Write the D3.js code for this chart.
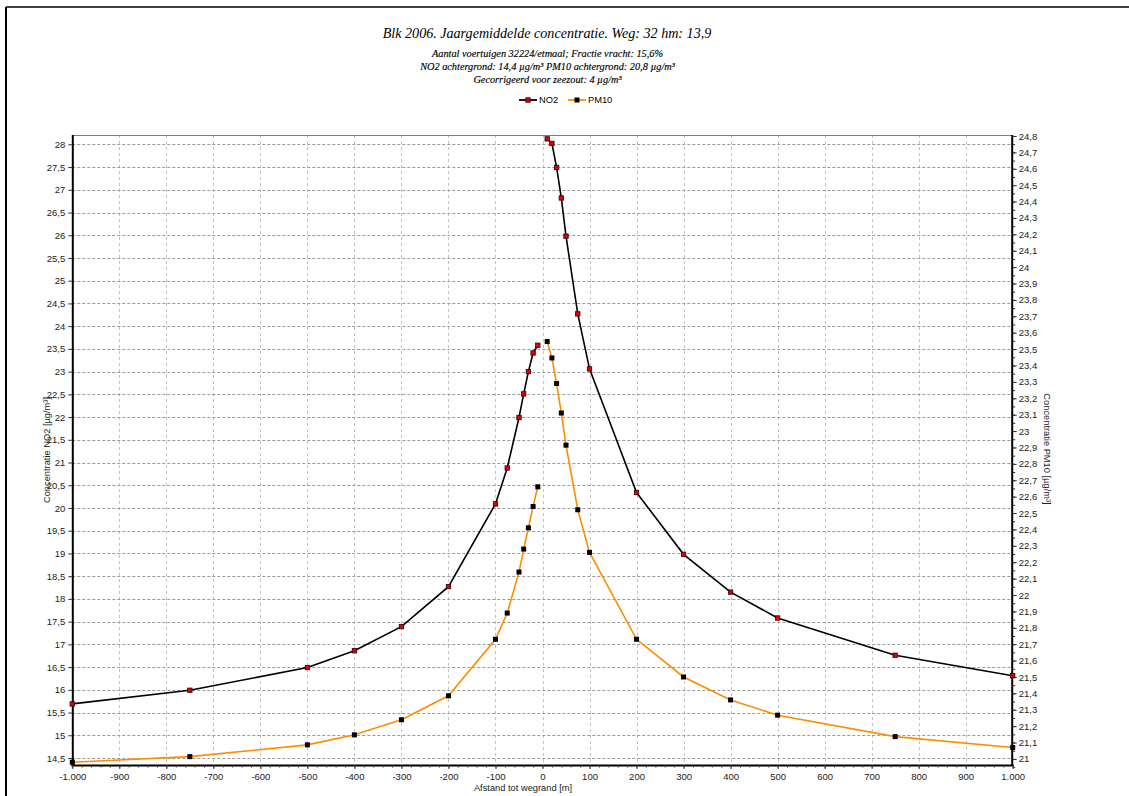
<!DOCTYPE html>
<html>
<head>
<meta charset="utf-8">
<script src="https://cdn.jsdelivr.net/npm/d3@7/dist/d3.min.js"></script>
<style>
  html, body { margin: 0; padding: 0; background: #fff; }
  svg { display: block; }
</style>
</head>
<body>
<svg id="chart" width="1129" height="796"></svg>
<script>
// ---- data ----
const distances = [-1000, -750, -500, -400, -300, -200, -100, -75, -50, -40, -30, -20, -10, 0,
                   10, 20, 30, 40, 50, 75, 100, 200, 300, 400, 500, 750, 1000];
const no2Values = [15.69, 15.99, 16.49, 16.86, 17.39, 18.27, 20.09, 20.88, 21.99, 22.51, 23.0, 23.41, 23.58, null,
                   28.12, 28.02, 27.49, 26.82, 25.98, 24.27, 23.06, 20.34, 18.98, 18.15, 17.58, 16.76, 16.31];
const pm10Values = [20.98, 21.014, 21.086, 21.147, 21.239, 21.385, 21.73, 21.89, 22.14, 22.28, 22.41, 22.54, 22.66, null,
                    23.546, 23.446, 23.29, 23.11, 22.914, 22.52, 22.26, 21.73, 21.50, 21.36, 21.267, 21.136, 21.07];
const seriesNames = ["NO2", "PM10"];
const titleText = "Blk 2006. Jaargemiddelde concentratie. Weg: 32 hm: 13,9";
const subtitleLines = [
  "Aantal voertuigen 32224/etmaal; Fractie vracht: 15,6%",
  "NO2 achtergrond: 14,4 \u00b5g/m\u00b3 PM10 achtergrond: 20,8 \u00b5g/m\u00b3",
  "Gecorrigeerd voor zeezout: 4 \u00b5g/m\u00b3"
];
const xTitle = "Afstand tot wegrand [m]";
const yLeftTitle = "Concentratie NO2 [\u00b5g/m\u00b3]";
const yRightTitle = "Concentratie PM10 [\u00b5g/m\u00b3]";
const xTicks = d3.range(-1000, 1001, 100);
const xMinorTicks = d3.range(-1000, 1001, 20);
const yLeftTicks = d3.range(14.5, 28.01, 0.5);
const yRightTicks = d3.range(21, 24.801, 0.1).map(v => Math.round(v * 10) / 10);
const yRightMinor = d3.range(20.95, 24.81, 0.05).map(v => Math.round(v * 100) / 100);

// ---- layout ----
const svg = d3.select("#chart");
const plot = { left: 72.3, right: 1012.7, top: 135, bottom: 765 };

const nl = d3.formatLocale({ decimal: ",", thousands: ".", grouping: [3], currency: ["", ""], minus: "-" });
const fmtX = nl.format(",~f");
const fmtY = nl.format(".1~f");

const x = d3.scaleLinear().domain([-1000, 1000]).range([plot.left, plot.right]);
const yL = d3.scaleLinear().domain([14.346, 28.205]).range([plot.bottom, plot.top]);
const yR = d3.scaleLinear().domain([20.963, 24.806]).range([plot.bottom, plot.top]);

// frame
svg.append("line").attr("x1", 6).attr("x2", 6).attr("y1", 7).attr("y2", 796)
  .attr("stroke", "#000").attr("stroke-width", 2);
svg.append("line").attr("x1", 6).attr("x2", 1129).attr("y1", 7).attr("y2", 7)
  .attr("stroke", "#000").attr("stroke-width", 1.5);

// grid
const grid = svg.append("g");
grid.selectAll(".vg").data(xTicks.filter(d => d > -1000 && d < 1000)).enter().append("line")
  .attr("x1", d => Math.round(x(d)) + 0.5).attr("x2", d => Math.round(x(d)) + 0.5)
  .attr("y1", plot.top).attr("y2", plot.bottom)
  .attr("stroke", "#c4c4c4").attr("stroke-dasharray", "3,3");
grid.selectAll(".hg").data(yLeftTicks).enter().append("line")
  .attr("x1", plot.left).attr("x2", plot.right)
  .attr("y1", d => Math.round(yL(d)) + 0.5).attr("y2", d => Math.round(yL(d)) + 0.5)
  .attr("stroke", "#9a9a9a").attr("stroke-dasharray", "3,2");

// top border
svg.append("line").attr("x1", plot.left).attr("x2", plot.right).attr("y1", plot.top + 0.5).attr("y2", plot.top + 0.5)
  .attr("stroke", "#808080").attr("stroke-width", 1);

// axes
const tickFont = "Liberation Sans, Arial, sans-serif";
const xAxis = svg.append("g").attr("transform", `translate(0,${plot.bottom})`)
  .call(d3.axisBottom(x).tickValues(xTicks).tickFormat(fmtX).tickSize(4).tickPadding(4));
const xMinor = svg.append("g").attr("transform", `translate(0,${plot.bottom})`)
  .call(d3.axisBottom(x).tickValues(xMinorTicks).tickFormat("").tickSize(2.5));
xMinor.select(".domain").remove();

const yLAxis = svg.append("g").attr("transform", `translate(${plot.left},0)`)
  .call(d3.axisLeft(yL).tickValues(yLeftTicks).tickFormat(fmtY).tickSize(4).tickPadding(3));

const yRAxis = svg.append("g").attr("transform", `translate(${plot.right},0)`)
  .call(d3.axisRight(yR).tickValues(yRightTicks).tickFormat(fmtY).tickSize(4).tickPadding(2));
const yRMinor = svg.append("g").attr("transform", `translate(${plot.right},0)`)
  .call(d3.axisRight(yR).tickValues(yRightMinor).tickFormat("").tickSize(2.5));
yRMinor.select(".domain").remove();

[xAxis, yLAxis, yRAxis].forEach(g => {
  g.select(".domain").attr("stroke", "#000").attr("stroke-width", 2);
  g.selectAll("text").attr("font-family", tickFont).attr("font-size", 9.5).attr("fill", "#222");
});
xAxis.select(".domain").attr("d", `M${plot.left - 1},0.5H${plot.right + 1}`);
yLAxis.select(".domain").attr("d", `M0.5,${plot.top}V${plot.bottom}`);
yRAxis.select(".domain").attr("d", `M-0.5,${plot.top}V${plot.bottom}`);
svg.selectAll(".tick line").attr("stroke", "#333");

// lines
const defs = (arr) => distances.map((d, i) => ({ d, v: arr[i] }));
const no2Data = defs(no2Values);
const pm10Data = defs(pm10Values);

const lineL = d3.line().defined(p => p.v !== null).x(p => x(p.d)).y(p => yL(p.v));
const lineR = d3.line().defined(p => p.v !== null).x(p => x(p.d)).y(p => yR(p.v));

svg.append("path").datum(pm10Data).attr("d", lineR)
  .attr("fill", "none").attr("stroke", "#ff8c00").attr("stroke-width", 1.6);
svg.append("path").datum(no2Data).attr("d", lineL)
  .attr("fill", "none").attr("stroke", "#000").attr("stroke-width", 1.6);

svg.append("g").selectAll("rect").data(pm10Data.filter(p => p.v !== null)).enter().append("rect")
  .attr("x", p => x(p.d) - 2.5).attr("y", p => yR(p.v) - 2.5)
  .attr("width", 5).attr("height", 5).attr("fill", "#000");
svg.append("g").selectAll("rect").data(no2Data.filter(p => p.v !== null)).enter().append("rect")
  .attr("x", p => x(p.d) - 2.2).attr("y", p => yL(p.v) - 2.2)
  .attr("width", 4.4).attr("height", 4.4).attr("fill", "#e00000").attr("stroke", "#300").attr("stroke-width", 0.8);

// titles
const serif = "Liberation Serif, Times New Roman, serif";
svg.append("text").attr("x", 547).attr("y", 38).attr("text-anchor", "middle")
  .attr("font-family", serif).attr("font-style", "italic").attr("font-size", 14.1).attr("fill", "#000")
  .text(titleText);
subtitleLines.forEach((t, i) => {
  svg.append("text").attr("x", 547.5).attr("y", [56.5, 69.5, 82.5][i]).attr("text-anchor", "middle")
    .attr("font-family", serif).attr("font-style", "italic").attr("font-size", 10.3).attr("fill", "#000")
    .attr("stroke", "#000").attr("stroke-width", 0.15)
    .text(t);
});

// legend
const legend = svg.append("g").attr("font-family", tickFont).attr("font-size", 9.3);
const legItems = [
  { name: seriesNames[0], x0: 519, color: "#000", mfill: "#e00000", mstroke: "#300", ms: 4.4 },
  { name: seriesNames[1], x0: 568, color: "#ff8c00", mfill: "#000", mstroke: "none", ms: 5 }
];
legItems.forEach(it => {
  legend.append("line").attr("x1", it.x0).attr("x2", it.x0 + 18).attr("y1", 100).attr("y2", 100)
    .attr("stroke", it.color).attr("stroke-width", 1.8);
  legend.append("rect").attr("x", it.x0 + 9 - it.ms / 2).attr("y", 100 - it.ms / 2)
    .attr("width", it.ms).attr("height", it.ms).attr("fill", it.mfill).attr("stroke", it.mstroke).attr("stroke-width", 0.8);
  legend.append("text").attr("x", it.x0 + 20).attr("y", 103.3).attr("fill", "#000").text(it.name);
});

// axis titles
svg.append("text").attr("transform", `translate(50,450) rotate(-90)`).attr("text-anchor", "middle")
  .attr("font-family", tickFont).attr("font-size", 9.3).attr("fill", "#222").text(yLeftTitle);
svg.append("text").attr("transform", `translate(1044,449) rotate(90)`).attr("text-anchor", "middle")
  .attr("font-family", tickFont).attr("font-size", 9.3).attr("fill", "#222").text(yRightTitle);
svg.append("text").attr("x", 523).attr("y", 791).attr("text-anchor", "middle")
  .attr("font-family", tickFont).attr("font-size", 9.3).attr("fill", "#222").text(xTitle);
</script>
</body>
</html>
